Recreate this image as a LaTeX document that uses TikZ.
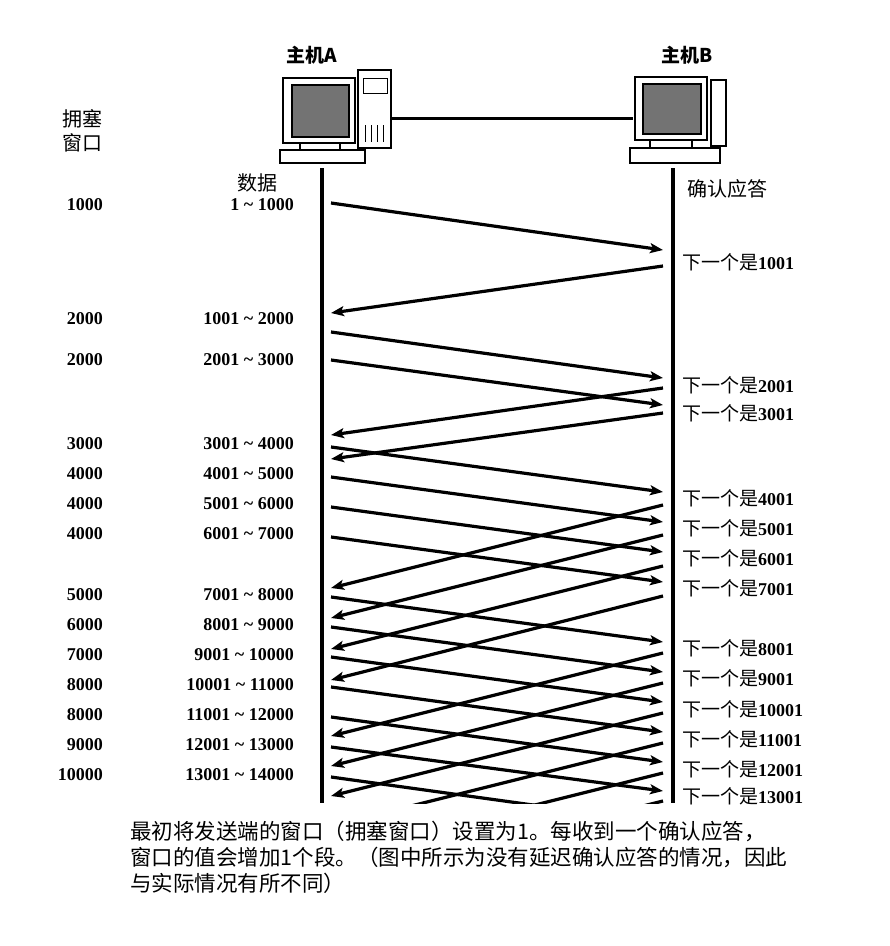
\documentclass[tikz,border=0pt]{standalone}
\usepackage{fontspec}
\setmainfont{Liberation Serif}
\newfontfamily\cjk{Noto Sans CJK SC}
\usetikzlibrary{arrows.meta}
\begin{document}
\begin{tikzpicture}[x=1pt,y=-1pt,
  lbl/.style={font=\bfseries\fontsize{18}{20}\selectfont,inner sep=0pt},
  msg/.style={line width=3.2pt,-{Stealth[length=13pt,width=10pt,inset=3pt]}},
  life/.style={line width=3.5pt},
  scr/.style={fill=black!55,draw=black,line width=1.5pt}]
\useasboundingbox (0,0) rectangle (890,946);
% computers
\draw[line width=3pt] (391,118) -- (633,118);
\draw[line width=1.2pt,fill=white] (283,78) rectangle (355,143);
\draw[scr] (292,85) rectangle (349,137);
\draw[line width=1.2pt,fill=white] (358,70) rectangle (391,148);
\draw[line width=1pt] (363,78) rectangle (387,93);
\foreach \i in {365,371,377,383} \draw[line width=1pt] (\i,125) -- (\i,142);
\draw[line width=1.2pt,fill=white] (300,143) rectangle (340,150);
\draw[line width=1.2pt,fill=white] (280,150) rectangle (365,163);
\draw[line width=1.2pt,fill=white] (635,77) rectangle (707,140);
\draw[scr] (643,84) rectangle (701,134);
\draw[line width=1.2pt,fill=white] (711,80) rectangle (726,146);
\draw[line width=1.2pt,fill=white] (650,140) rectangle (692,148);
\draw[line width=1.2pt,fill=white] (630,148) rectangle (720,163);
\node[lbl,font=\cjk\bfseries\fontsize{19}{21}\selectfont] (hA) at (312,55) {主机A};
\node[lbl,font=\cjk\bfseries\fontsize{19}{21}\selectfont] (hB) at (687,55) {主机B};
% lifelines
\coordinate (At) at (322,168); \coordinate (Ab) at (322,803);
\coordinate (Bt) at (673,168); \coordinate (Bb) at (673,803);
\draw[life] (At) -- (Ab); \draw[life] (Bt) -- (Bb);
% headers
\node[lbl,font=\cjk\fontsize{20}{24}\selectfont,align=center] (cw) at (82,131) {拥塞\\窗口};
\node[lbl,font=\cjk\fontsize{20}{24}\selectfont] (dh) at (257,183) {数据};
\node[lbl,font=\cjk\fontsize{20}{24}\selectfont] (ah) at (727,189) {确认应答};
% window & data labels
\foreach \w/\d/\y [count=\k] in {1000/1 \textasciitilde{} 1000/205,2000/1001 \textasciitilde{} 2000/319,2000/2001 \textasciitilde{} 3000/360,
  3000/3001 \textasciitilde{} 4000/444,4000/4001 \textasciitilde{} 5000/474,4000/5001 \textasciitilde{} 6000/504,4000/6001 \textasciitilde{} 7000/534,
  5000/7001 \textasciitilde{} 8000/595,6000/8001 \textasciitilde{} 9000/625,7000/9001 \textasciitilde{} 10000/655,8000/10001 \textasciitilde{} 11000/685,
  8000/11001 \textasciitilde{} 12000/715,9000/12001 \textasciitilde{} 13000/745,10000/13001 \textasciitilde{} 14000/775}{
  \node[lbl,anchor=east] (w\k) at (103,\y) {\w};
  \node[lbl,anchor=east] (d\k) at (294,\y) {\d};
}
% ack labels
\foreach \a/\y [count=\k] in {1001/262,2001/385,3001/413,4001/498,5001/528,6001/558,7001/588,8001/648,9001/678,10001/709,11001/739,12001/769,13001/796}{
  \node[lbl,anchor=west] (k\k) at (682,\y) {{\cjk\mdseries\fontsize{19}{21}\selectfont 下一个是}\a};
}
% messages
\begin{scope}
\clip (322,168) rectangle (673,803);
\foreach \s/\e [count=\k] in {203/250,332/378,360/405,447/492,477/522,507/552,537/582,597/642,627/672,657/702,687/732,717/762,747/791,777/823}{
  \coordinate (ds\k) at (331,\s); \coordinate (de\k) at (663,\e);
  \draw[msg] (ds\k) -- (de\k);
}
\foreach \s/\e [count=\k] in {266/313,388/435,413/459,505/588,535/618,566/649,596/680,653/736,683/766,713/796,743/826,773/856,801/884}{
  \coordinate (as\k) at (663,\s); \coordinate (ae\k) at (331,\e);
  \draw[msg] (as\k) -- (ae\k);
}
\end{scope}
% caption
\node[lbl,anchor=north west,align=left,font=\cjk\fontsize{21.5}{26}\selectfont] (cap) at (130,821)
 {最初将发送端的窗口（拥塞窗口）设置为1。每收到一个确认应答，\\窗口的值会增加1个段。（图中所示为没有延迟确认应答的情况，因此\\与实际情况有所不同）};
\end{tikzpicture}
\end{document}
